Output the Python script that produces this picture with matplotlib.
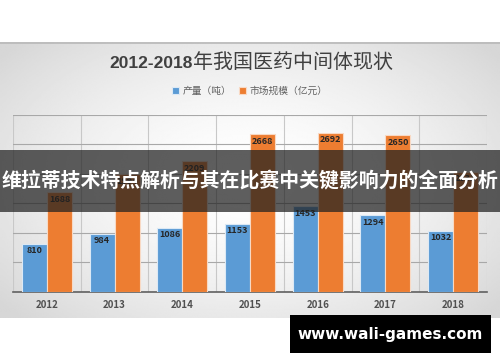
import numpy as np
import matplotlib.pyplot as plt

plt.rcParams['font.family'] = ['Noto Sans CJK SC', 'DejaVu Sans']

years = ['2012', '2013', '2014', '2015', '2016', '2017', '2018']
output_t = [810, 984, 1086, 1153, 1453, 1294, 1032]
market = [1688, 1994, 2209, 2668, 2692, 2650, 2031]
series_names = ['产量（吨）', '市场规模（亿元）']
title_num = '2012-2018'
title_cn = '年我国医药中间体现状'
banner_text = '维拉蒂技术特点解析与其在比赛中关键影响力的全面分析'
watermark = 'www.wali-games.com'

blue = '#5B9BD5'
orange = '#ED7D31'

fig = plt.figure(figsize=(5, 3.62), dpi=100)
fig.patch.set_facecolor('white')

# gray radial-gradient panel behind the chart
panel = fig.add_axes([0, 1 - 318 / 362, 1, (318 - 42) / 362])
yy, xx = np.mgrid[-1:1:200j, -1:1:300j]
r = np.sqrt(xx ** 2 + (yy * 0.9) ** 2)
grad = 1.0 - 0.16 * np.clip(r / 1.3, 0, 1) ** 1.6
panel.imshow(grad, cmap='gray', vmin=0, vmax=1, aspect='auto', extent=[0, 1, 0, 1])
panel.set_xlim(0, 1)
panel.set_ylim(0, 1)
panel.axis('off')
panel.plot([0, 1], [0.997, 0.997], color='#b8b8b8', lw=1.2)

ax = fig.add_axes([13 / 500, 1 - 291.7 / 362, 474 / 500, (291.7 - 114.7) / 362])
ax.patch.set_alpha(0)
x = np.arange(len(years))
w = 0.37
b1 = ax.bar(x - w / 2, output_t, w, color=blue, edgecolor='#dce9f5', lw=0.8, zorder=3)
b2 = ax.bar(x + w / 2, market, w, color=orange, edgecolor='#f8d9c4', lw=0.8, zorder=3)
for bars, vals in ((b1, output_t), (b2, market)):
    for bar, v in zip(bars, vals):
        ax.text(bar.get_x() + bar.get_width() / 2, v - 120, str(v), ha='center', va='center',
                fontsize=6.5, fontweight='bold', color='#262626', zorder=4)

ax.set_xlim(-0.5, len(years) - 0.5)
ax.set_ylim(0, 3000)
ax.set_yticks(np.arange(0, 3001, 500))
ax.set_xticks(np.arange(-0.5, len(years), 1), minor=True)
ax.grid(axis='y', color='#a8a8a8', lw=0.8, zorder=0)
ax.grid(axis='x', which='minor', color='#c8c8c8', lw=0.8, zorder=0)
ax.set_xticks(x)
ax.set_xticklabels(years, fontsize=7, fontweight='bold', color='#505050')
ax.tick_params(axis='x', which='both', length=0, pad=6)
ax.tick_params(axis='y', length=0, labelleft=False)
for s in ('top', 'right', 'left'):
    ax.spines[s].set_visible(False)
ax.spines['bottom'].set_color('#606060')
ax.spines['bottom'].set_linewidth(1.2)

# title (bold digits + regular chinese) and legend
fig.text(193 / 500, 1 - 63 / 362, title_num, ha='right', va='center', fontsize=12.5,
         fontweight='bold', color='#404040', family=['Liberation Sans'])
fig.text(193 / 500, 1 - 62 / 362, title_cn, ha='left', va='center', fontsize=14.4,
         color='#404040')
fig.legend([b1, b2], series_names, loc='center', bbox_to_anchor=(0.5, 1 - 91 / 362),
           ncol=2, frameon=False, fontsize=7, handlelength=0.7, handleheight=0.7,
           handletextpad=0.4, columnspacing=0.8, labelcolor='#606060')

# overlay banner
fig.patches.append(plt.Rectangle((0, 1 - 211.7 / 362), 1, 61.7 / 362, transform=fig.transFigure,
                                 facecolor='#202020', alpha=0.72, zorder=10))
fig.text(0.5, 1 - 181 / 362, banner_text, ha='center', va='center', fontsize=14.3,
         fontweight='bold', color='white', zorder=11)

# watermark box
fig.patches.append(plt.Rectangle((290 / 500, 1 - 353 / 362), 201 / 500, 38 / 362,
                                 transform=fig.transFigure, facecolor='black', zorder=10))
fig.text(390 / 500, 1 - 335 / 362, watermark, ha='center', va='center', fontsize=11,
         fontweight='bold', color='white', zorder=11, family=['DejaVu Sans'])

fig.savefig('out.png', dpi=100)
